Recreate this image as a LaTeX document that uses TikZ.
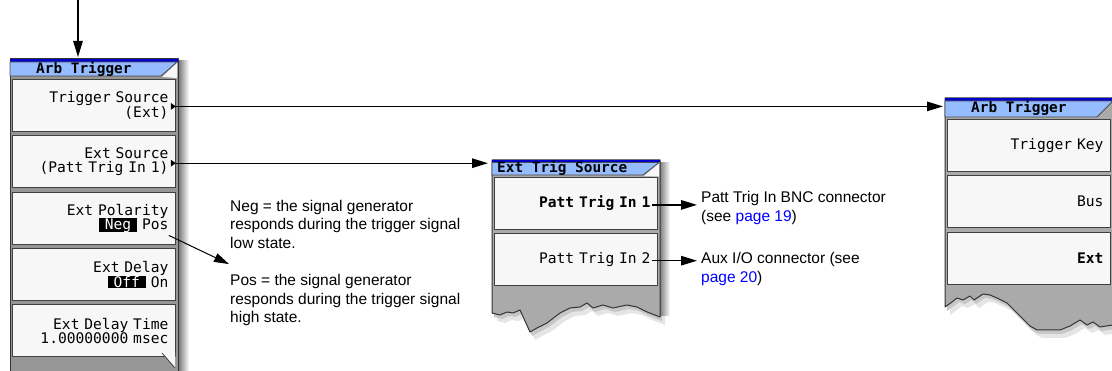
\documentclass[tikz,border=0pt]{standalone}
\usepackage{fontspec}
\setmainfont{Liberation Sans}
\newfontfamily\menufont{DejaVu Sans Mono}
\usetikzlibrary{arrows.meta, positioning, calc}

\definecolor{headblue}{RGB}{148,188,255}
\definecolor{headline}{RGB}{0,0,200}
\definecolor{keywhite}{RGB}{247,247,247}
\definecolor{panelgray}{RGB}{150,150,150}
\definecolor{torngray}{RGB}{170,170,170}
\definecolor{linkblue}{RGB}{0,0,255}

\newcommand{\invtext}[1]{{\setlength{\fboxsep}{0pt}\colorbox{black}{\hspace{6pt}\textcolor{white}{#1}\hspace{6pt}}}}

% torn outlines of the two cut-off menus
\newcommand{\etsedge}{(492,160) -- (660,160) -- (660,317) -- (647,312) -- (637,307) -- (627,305) -- (613,308) -- (603,305) -- (593,308) -- (587,303) -- (580,307) -- (570,308) -- (560,313) -- (547,323) -- (537,328) -- (530,332) -- (520,310) -- (513,313) -- (507,312) -- (500,315) -- (492,313) -- cycle}
\newcommand{\arbedge}{(945,98) -- (1113,98) -- (1113,325) -- (1100,327) -- (1093,322) -- (1087,325) -- (1080,320) -- (1070,326) -- (1060,330) -- (1037,330) -- (1030,326) -- (1007,303) -- (997,298) -- (990,295) -- (983,294) -- (974,300) -- (970,296) -- (963,300) -- (957,298) -- (952,302) -- (945,307) -- cycle}

\begin{document}
\begin{tikzpicture}[x=1pt, y=-1pt, line join=round,
    arr/.style={-{Triangle[length=16pt, width=9.5pt]}, line width=1.3pt},
    keybox/.style={rectangle, draw=black!75, line width=0.8pt, fill=keywhite, minimum width=163pt, minimum height=52pt, inner sep=0pt, text width=149pt, align=right, font=\menufont\fontsize{14.6}{14}\selectfont},
    headbar/.style={rectangle, minimum width=168pt, minimum height=17pt, inner sep=0pt, anchor=north west},
    headtext/.style={font=\menufont\bfseries\fontsize{14.4}{14}\selectfont, anchor=west, inner sep=0pt},
    note/.style={font=\fontsize{15.5}{18.5}\selectfont, align=left, anchor=west, inner sep=0pt}]
    \useasboundingbox (0,0) rectangle (1112,371);
    \clip (0,0) rectangle (1112,371);

    % Left menu: Arb Trigger
    \shade [left color=black!55, right color=white] (178,61) rectangle (189,380);
    \filldraw [fill=panelgray, draw=black!80, line width=1pt] (10,59) rectangle (178,380);
    \node [headbar] (arbhead) at (10,59) {};
    \fill [headline] (10,59) rectangle (178,62);
    \filldraw [fill=headblue, draw=black!70, line width=0.8pt] (10,62) -- (177,62) -- (161,76) -- (10,76) -- cycle;
    \fill [keywhite] (162,77) -- (177,63) -- (177,78) -- cycle;
    \node [headtext] (arbheadtxt) at (36,69) {Arb Trigger};
    \node [keybox, anchor=north west] (trigsrc) at (12,79) {Trigger Source\\(Ext)};
    \node [keybox, below=3.5pt of trigsrc] (extsrc) {Ext Source\\(Patt Trig In 1)};
    \node [keybox, below=3.5pt of extsrc] (polkey) {Ext Polarity\\\invtext{Neg} Pos\hspace*{10pt}};
    \node [keybox, below=3.5pt of polkey] (delaykey) {Ext Delay\\\invtext{Off} On\hspace*{10pt}};
    \node [keybox, below=3.5pt of delaykey] (delaytime) {Ext Delay Time\\1.00000000 msec};
    \fill [keywhite] (162,352.6) -- (175,352.6) -- (175,368) -- cycle;
    \draw [black!75, line width=0.8pt] (162,353) -- (175,368);
    \coordinate (trigsrcmk) at ($(trigsrc.east)+(0,1)$);
    \coordinate (extsrcmk) at ($(extsrc.east)+(0,1.5)$);
    \fill (trigsrcmk) -- ++(-5,-3.5) -- ++(0,7) -- cycle;
    \fill (extsrcmk) -- ++(-5,-3.5) -- ++(0,7) -- cycle;

    % Middle menu: Ext Trig Source
    \fill [black!10, shift={(5,8)}] \etsedge;
    \fill [black!22, shift={(2,4)}] \etsedge;
    \shade [left color=black!50, right color=white] (660,163) rectangle (670,316);
    \filldraw [fill=torngray, draw=black!80, line width=1pt] \etsedge;
    \node [headbar] (etshead) at (492,160) {};
    \fill [headline] (492,160) rectangle (660,162.5);
    \filldraw [fill=headblue, draw=black!70, line width=0.8pt] (492,162.5) -- (659,162.5) -- (643,175) -- (492,175) -- cycle;
    \fill [keywhite] (644,176) -- (659,163.5) -- (659,176.5) -- cycle;
    \node [headtext] (etsheadtxt) at (497,168) {Ext Trig Source};
    \node [keybox, anchor=north west] (pti1) at (494,177) {\textbf{Patt Trig In 1}};
    \node [keybox, below=3.5pt of pti1] (pti2) {Patt Trig In 2};
    \coordinate (pti1mk) at ($(pti1.east)+(-6,1.5)$);
    \coordinate (pti2mk) at ($(pti2.east)+(-6,1)$);

    % Right menu: Arb Trigger
    \fill [black!10, shift={(5,8)}] \arbedge;
    \fill [black!22, shift={(2,4)}] \arbedge;
    \filldraw [fill=torngray, draw=black!80, line width=1pt] \arbedge;
    \node [headbar] (arbhead2) at (945,98) {};
    \fill [headline] (945,98) rectangle (1113,101);
    \filldraw [fill=headblue, draw=black!70, line width=0.8pt] (945,101) -- (1113,101) -- (1097,117) -- (945,117) -- cycle;
    \node [headtext] (arbhead2txt) at (971,108.5) {Arb Trigger};
    \node [keybox, anchor=north west] (trigkey) at (947,119) {Trigger Key};
    \node [keybox, below=3.5pt of trigkey] (buskey) {Bus};
    \node [keybox, below=3.5pt of buskey] (extkey) {\textbf{Ext}};

    % Notes
    \node [note] (negnote) at (230,224) {Neg = the signal generator\\responds during the trigger signal\\low state.};
    \node [note] (posnote) at (230,300) {Pos = the signal generator\\responds during the trigger signal\\high state.};
    \node [note] (bncnote) at (701,208) {Patt Trig In BNC connector\\(see \textcolor{linkblue}{page 19})};
    \node [note] (auxnote) at (701,269) {Aux I/O connector (see\\\textcolor{linkblue}{page 20})};

    % Connectors
    \coordinate (entry) at (78,-5);
    \draw [arr, shorten >=2pt] (entry) -- (entry |- arbhead.north);
    \draw [arr, shorten >=2pt] (trigsrcmk) -- (trigsrcmk -| arbhead2.west);
    \draw [arr, shorten >=4pt] (extsrcmk) -- (extsrcmk -| etshead.west);
    \draw [arr, line width=1pt, -{Triangle[length=15pt, width=9pt]}] ($(polkey.south east)+(-7,-9)$) -- ($(posnote.north west)+(-1,-10)$);
    \draw [arr, shorten >=4pt] (pti1mk) -- (pti1mk -| bncnote.west);
    \draw [arr, shorten >=4pt] (pti2mk) -- (pti2mk -| auxnote.west);
\end{tikzpicture}
\end{document}
